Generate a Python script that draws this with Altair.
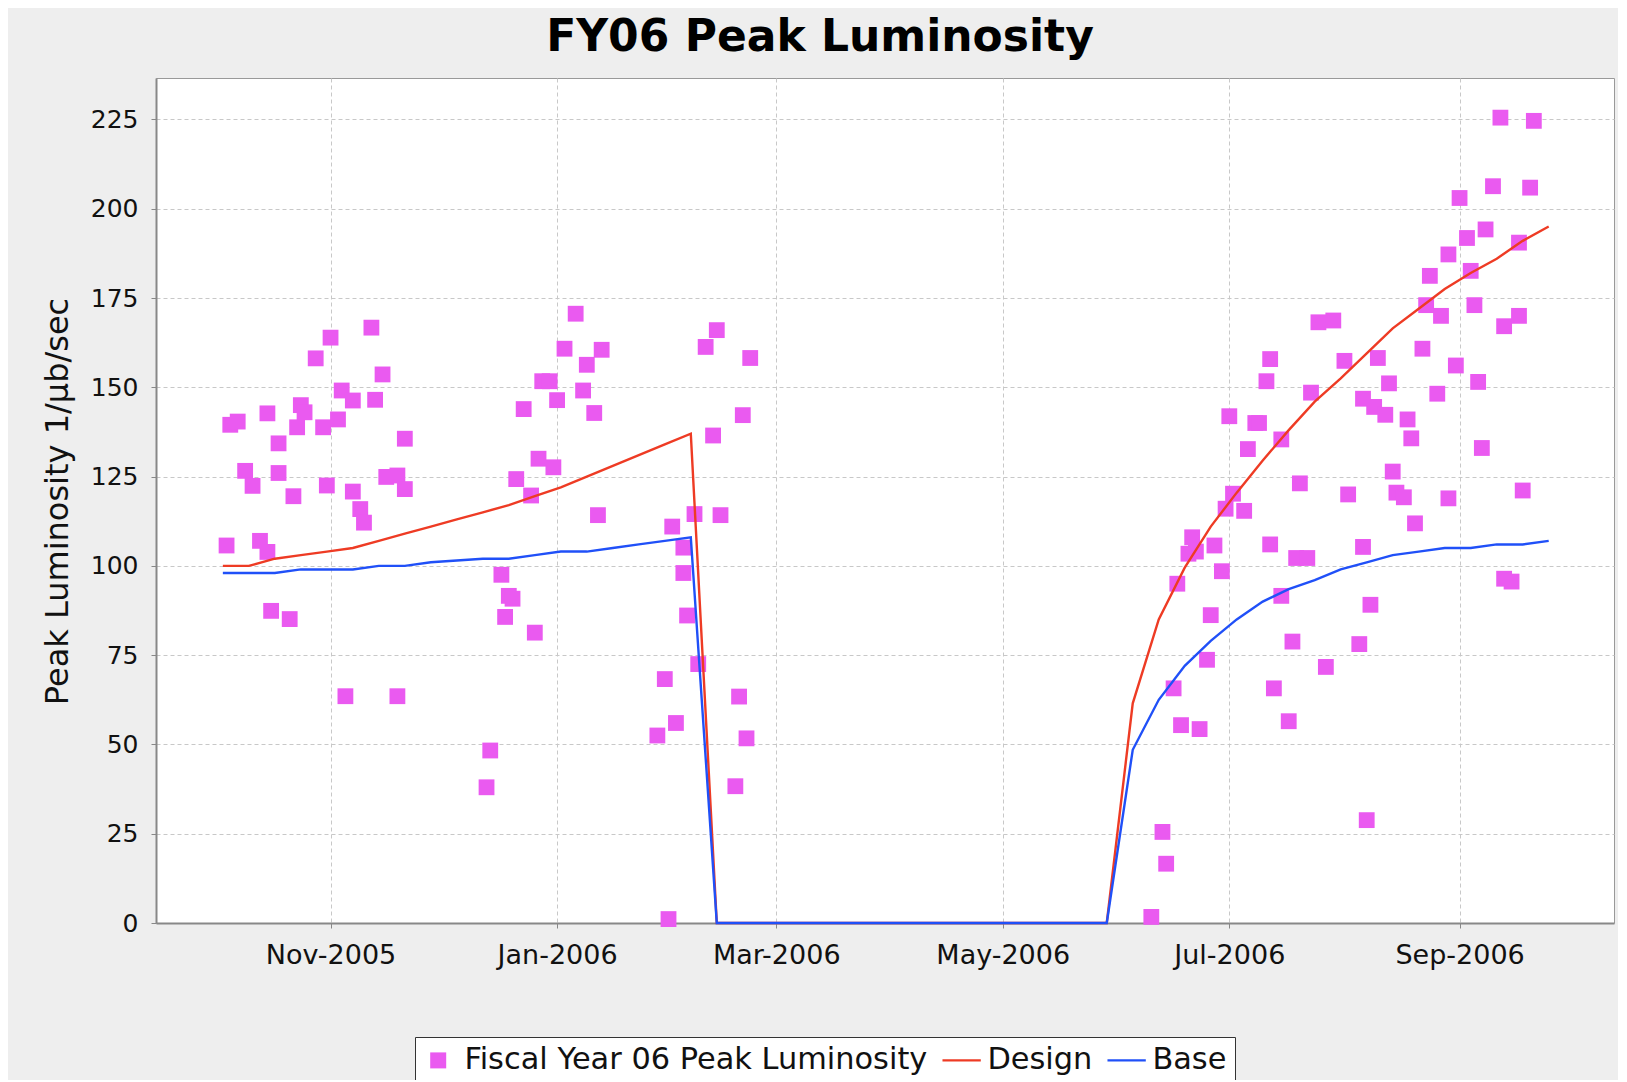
import altair as alt
import pandas as pd

# ---------------- data ----------------
S_PTS = "Fiscal Year 06 Peak Luminosity"
S_DES = "Design"
S_BASE = "Base"
series_names = [S_PTS, S_DES, S_BASE]
series_colors = ["#ea5af0", "#ee3b24", "#2050f8"]

point_dates = [
    "2005-10-04", "2005-10-05", "2005-10-07", "2005-10-09", "2005-10-11", "2005-10-13",
    "2005-10-15", "2005-10-15", "2005-10-16", "2005-10-18", "2005-10-18", "2005-10-21",
    "2005-10-22", "2005-10-23", "2005-10-24", "2005-10-25", "2005-10-28", "2005-10-30",
    "2005-10-31", "2005-11-01", "2005-11-03", "2005-11-04", "2005-11-05", "2005-11-07",
    "2005-11-07", "2005-11-09", "2005-11-10", "2005-11-12", "2005-11-13", "2005-11-15",
    "2005-11-16", "2005-11-19", "2005-11-19", "2005-11-21", "2005-11-21",
    "2005-12-13", "2005-12-14", "2005-12-17", "2005-12-18", "2005-12-19", "2005-12-20",
    "2005-12-21", "2005-12-23", "2005-12-25", "2005-12-26", "2005-12-27", "2005-12-28",
    "2005-12-30", "2005-12-31", "2006-01-01", "2006-01-03", "2006-01-06", "2006-01-08",
    "2006-01-09", "2006-01-11", "2006-01-12", "2006-01-13", "2006-01-28", "2006-01-30",
    "2006-01-31", "2006-02-01", "2006-02-02", "2006-02-04", "2006-02-04", "2006-02-05",
    "2006-02-07", "2006-02-08", "2006-02-10", "2006-02-12", "2006-02-13", "2006-02-14",
    "2006-02-18", "2006-02-19", "2006-02-20", "2006-02-21", "2006-02-22",
    "2006-06-10", "2006-06-13", "2006-06-14", "2006-06-16", "2006-06-17", "2006-06-18",
    "2006-06-20", "2006-06-21", "2006-06-22", "2006-06-23", "2006-06-25", "2006-06-26",
    "2006-06-27", "2006-06-29", "2006-06-30", "2006-07-01", "2006-07-02", "2006-07-05",
    "2006-07-06", "2006-07-08", "2006-07-09", "2006-07-11", "2006-07-12", "2006-07-12",
    "2006-07-13", "2006-07-15", "2006-07-15", "2006-07-17", "2006-07-18", "2006-07-19",
    "2006-07-20", "2006-07-22", "2006-07-23", "2006-07-25", "2006-07-27", "2006-07-29",
    "2006-08-01", "2006-08-02", "2006-08-05", "2006-08-06", "2006-08-06", "2006-08-07",
    "2006-08-08", "2006-08-09", "2006-08-10", "2006-08-12", "2006-08-13", "2006-08-14",
    "2006-08-15", "2006-08-17", "2006-08-18", "2006-08-19", "2006-08-20", "2006-08-22",
    "2006-08-23", "2006-08-24", "2006-08-26", "2006-08-27", "2006-08-29", "2006-08-29",
    "2006-08-31", "2006-09-01", "2006-09-03", "2006-09-04", "2006-09-05", "2006-09-06",
    "2006-09-07", "2006-09-08", "2006-09-10", "2006-09-12", "2006-09-13", "2006-09-13",
    "2006-09-15", "2006-09-17", "2006-09-17", "2006-09-18", "2006-09-20", "2006-09-21",
]
point_values = [
    105.7, 139.5, 140.4, 126.6, 122.4, 107.0,
    142.7, 103.9, 87.4, 134.3, 126.0, 85.1,
    119.5, 138.8, 145.0, 143.0, 158.1, 138.8,
    122.5, 163.9, 141.0, 149.1, 63.5, 120.8,
    146.3, 115.9, 112.1, 166.7, 146.5, 153.6,
    124.9, 63.5, 125.3, 121.5, 135.6,
    38.0, 48.3, 97.5, 85.7, 91.6, 90.8,
    124.3, 143.9, 119.7, 81.3, 130.0, 151.7,
    151.7, 127.6, 146.4, 160.8, 170.6, 149.1,
    156.3, 142.8, 114.2, 160.5, 52.5, 68.3,
    1.1, 111.0, 56.0, 105.1, 98.0, 86.1,
    114.5, 72.5, 161.3, 136.5, 166.0, 114.2,
    38.3, 63.4, 142.2, 51.7, 158.2,
    1.7, 25.5, 16.6, 65.7, 95.0, 55.4,
    103.4, 108.0, 104.0, 54.3, 73.7, 86.2,
    105.7, 98.5, 116.0, 141.9, 120.2, 115.4,
    132.7, 140.0, 140.0, 151.7, 157.9, 106.0,
    65.7, 135.4, 91.6, 56.5, 78.8, 102.2,
    123.1, 102.2, 148.5, 168.2, 71.7, 168.7,
    157.4, 120.0, 78.1, 146.8, 105.3, 28.8,
    89.1, 144.5, 158.2, 142.3, 151.1, 126.4,
    120.5, 119.2, 141.0, 135.7, 111.9, 160.8,
    173.0, 181.2, 148.2, 170.0, 187.2, 118.9,
    156.1, 203.0, 191.8, 182.6, 173.0, 151.5,
    133.0, 194.2, 206.3, 225.5, 167.1, 96.4,
    95.6, 190.5, 170.0, 121.1, 205.9, 224.6,
]

line_dates = [
    "2005-10-03", "2005-10-10", "2005-10-17", "2005-10-24", "2005-10-31", "2005-11-07",
    "2005-11-14", "2005-11-21", "2005-11-28", "2005-12-05", "2005-12-12", "2005-12-19",
    "2005-12-26", "2006-01-02", "2006-01-09", "2006-01-16", "2006-01-23", "2006-01-30",
    "2006-02-06", "2006-02-13", "2006-02-20", "2006-02-27", "2006-03-06", "2006-03-13",
    "2006-03-20", "2006-03-27", "2006-04-03", "2006-04-10", "2006-04-17", "2006-04-24",
    "2006-05-01", "2006-05-08", "2006-05-15", "2006-05-22", "2006-05-29", "2006-06-05",
    "2006-06-12", "2006-06-19", "2006-06-26", "2006-07-03", "2006-07-10", "2006-07-17",
    "2006-07-24", "2006-07-31", "2006-08-07", "2006-08-14", "2006-08-21", "2006-08-28",
    "2006-09-04", "2006-09-11", "2006-09-18", "2006-09-25",
]
design_values = [
    100, 100, 102, 103, 104, 105,
    107, 109, 111, 113, 115, 117,
    119.5, 122, 125, 128, 131, 134,
    137, 0, 0, 0, 0, 0,
    0, 0, 0, 0, 0, 0,
    0, 0, 0, 0, 0, 61.5,
    85, 99.5, 111, 120.5, 129.5, 138,
    146, 152.5, 159.5, 166.5, 172, 177.5,
    182, 186, 191, 195,
]
base_values = [
    98, 98, 98, 99, 99, 99,
    100, 100, 101, 101.5, 102, 102,
    103, 104, 104, 105, 106, 107,
    108, 0, 0, 0, 0, 0,
    0, 0, 0, 0, 0, 0,
    0, 0, 0, 0, 0, 48.5,
    62.5, 72, 79, 85, 90, 93.5,
    96, 99, 101, 103, 104, 105,
    105, 106, 106, 107,
]

y_ticks = [0, 25, 50, 75, 100, 125, 150, 175, 200, 225]
x_ticks = [(2005, 11), (2006, 1), (2006, 3), (2006, 5), (2006, 7), (2006, 9)]

# ---------------- tables ----------------
pts_df = pd.DataFrame({"date": point_dates, "value": point_values, "series": S_PTS})
lines_df = pd.concat([
    pd.DataFrame({"date": line_dates, "value": design_values, "series": S_DES}),
    pd.DataFrame({"date": line_dates, "value": base_values, "series": S_BASE}),
])
legend_df = pd.DataFrame({"date": ["2006-04-01"] * 3, "value": [-100] * 3, "series": series_names})

FONT = "DejaVu Sans"

# legend symbols: square for the points, thin bars for the lines
shape_paths = [
    "M-1,-1H1V1H-1Z",
    "M-2.34,-0.15H2.45V0.15H-2.34Z",
    "M-2.34,-0.15H2.45V0.15H-2.34Z",
]

legend = alt.Legend(
    orient="none", legendX=259, legendY=959, direction="horizontal", title=None,
    labelFont=FONT, labelFontSize=30.4, labelColor="#111", labelLimit=1000,
    symbolSize=256, symbolStrokeWidth=0, symbolOpacity=1,
    labelOffset=11, columnPadding=14, padding=8,
    strokeColor="#333", fillColor="white", cornerRadius=0,
)

color = alt.Color("series:N", scale=alt.Scale(domain=series_names, range=series_colors), legend=legend)
shape = alt.Shape("series:N", scale=alt.Scale(domain=series_names, range=shape_paths), legend=legend)

x_enc = alt.X(
    "date:T",
    scale=alt.Scale(
        type="utc", nice=False,
        domain=[alt.DateTime(year=2005, month=9, date=15, utc=True),
                alt.DateTime(year=2006, month=10, date=12, hours=14, utc=True)],
    ),
    axis=alt.Axis(
        title=None,
        values=[alt.DateTime(year=y, month=m, date=1, utc=True) for y, m in x_ticks],
        labelExpr="utcFormat(datum.value, '%b-%Y')",
        labelFont=FONT, labelFontSize=27, labelColor="#111",
        labelPadding=14, tickSize=5, tickColor="#888",
        domainColor="#888", domainWidth=2,
        grid=True, gridColor="#c8c8c8", gridDash=[4, 3],
        labelFlush=False, labelOverlap=False,
    ),
)
y_enc = alt.Y(
    "value:Q",
    scale=alt.Scale(domain=[0, 236.6], nice=False, zero=False),
    axis=alt.Axis(
        title="Peak Luminosity 1/\u03bcb/sec",
        values=y_ticks,
        labelFont=FONT, labelFontSize=25, labelColor="#111",
        labelPadding=13, tickSize=5, tickColor="#888",
        domainColor="#888", domainWidth=2,
        grid=True, gridColor="#c8c8c8", gridDash=[4, 3],
        titleFont=FONT, titleFontSize=32, titleFontWeight="normal", titleColor="#111",
        titleX=-99, titleY=423, titleAngle=270, titleAlign="center", titleBaseline="middle",
    ),
)

legend_layer = alt.Chart(legend_df).mark_point(filled=True, size=256, opacity=1, clip=True).encode(
    x=x_enc, y=y_enc, color=color, shape=shape
)
points = alt.Chart(pts_df).mark_point(filled=True, shape="square", size=250, opacity=1).encode(
    x=x_enc, y=y_enc, color=color
)
lines = alt.Chart(lines_df).mark_line(strokeWidth=2.4).encode(
    x=x_enc, y=y_enc, color=color
)

chart = alt.layer(legend_layer, points, lines).properties(
    width=1458,
    height=845,
    padding={"left": 148, "top": 70, "right": 4, "bottom": 157},
    autosize=alt.AutoSizeParams(type="none"),
    background="#eeeeee",
    title=alt.TitleParams(
        "FY06 Peak Luminosity", font=FONT, fontSize=44, fontWeight="bold", color="#000",
        anchor="middle", dx=-65, dy=42, offset=16, baseline="bottom",
    ),
).configure_view(stroke="#999", fill="white")

chart.save("out.html", embed_options={"renderer": "svg", "actions": False})
